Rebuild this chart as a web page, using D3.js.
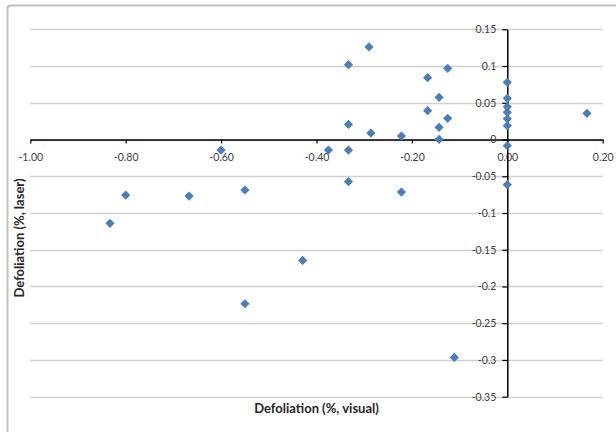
<!DOCTYPE html>
<html>
<head>
<meta charset="utf-8">
<script src="https://cdn.jsdelivr.net/npm/d3@7"></script>
<style>
  html, body { margin: 0; padding: 0; background: #fff; }
  svg { display: block; }
</style>
</head>
<body>
<svg id="chart" width="616" height="432"></svg>
<script>
// Data
const visual = [-0.833, -0.800, -0.667, -0.550, -0.550, -0.429, -0.600, -0.375, -0.333, -0.333,
                -0.290, -0.333, -0.286, -0.222, -0.167, -0.167, -0.143, -0.143, -0.143, -0.125,
                -0.125, 0, 0, 0, 0, 0, 0, 0, 0, 0.167, -0.111, -0.333, -0.222];
const laser  = [-0.114, -0.0756, -0.077, -0.0687, -0.2235, -0.1645, -0.0143, -0.0143, -0.0143, 0.1019,
                0.126, 0.0206, 0.0088, 0.0048, 0.0842, 0.0392, 0.0574, 0.0166, 0.0003, 0.0969,
                0.0289, 0.0778, 0.056, 0.0445, 0.037, 0.0283, 0.0188, -0.0084, -0.0615, 0.0357, -0.2965, -0.0574, -0.0715];
const xTicks = [-1.0, -0.8, -0.6, -0.4, -0.2, 0.0, 0.2];
const yTicks = [0.15, 0.1, 0.05, 0, -0.05, -0.1, -0.15, -0.2, -0.25, -0.3, -0.35];
const xTitle = "Defoliation (%, visual)";
const yTitle = "Defoliation (%, laser)";

const svg = d3.select("#chart");
const font = "Lato, 'Open Sans', sans-serif";

// chart border
svg.append("rect")
  .attr("x", 7.5).attr("y", 5.5)
  .attr("width", 640).attr("height", 460)
  .attr("rx", 3)
  .attr("fill", "#fff")
  .attr("stroke", "#bfbfbf")
  .attr("stroke-width", 2);

const x = d3.scaleLinear().domain([-1.0, 0.2]).range([30.3, 602.7]);
const y = d3.scaleLinear().domain([0.15, -0.35]).range([29.3, 396.7]);

// gridlines
svg.append("g").selectAll("line")
  .data(yTicks)
  .join("line")
  .attr("x1", x(-1.0)).attr("x2", x(0.2))
  .attr("y1", d => Math.round(y(d)) + 0.5).attr("y2", d => Math.round(y(d)) + 0.5)
  .attr("stroke", "#d0d0d0")
  .attr("stroke-width", 1.3);

// x axis at y=0
const xAxis = d3.axisBottom(x)
  .tickValues(xTicks)
  .tickFormat(d => d.toFixed(2))
  .tickSize(4)
  .tickSizeOuter(0)
  .tickPadding(10);
const gx = svg.append("g")
  .attr("transform", `translate(0,${y(0)})`)
  .call(xAxis);
gx.select(".domain").attr("stroke", "#000").attr("stroke-width", 1.5);
gx.selectAll(".tick line").attr("stroke", "#000").attr("stroke-width", 1.2);
gx.selectAll(".tick text")
  .attr("fill", "#404040")
  .style("font-family", font)
  .style("font-size", "10.5px");

// y axis at x=0
const yAxis = d3.axisLeft(y)
  .tickValues(yTicks)
  .tickFormat(d => String(+d.toFixed(2)))
  .tickSize(5)
  .tickSizeOuter(0)
  .tickPadding(6);
const gy = svg.append("g")
  .attr("transform", `translate(${x(0)},0)`)
  .call(yAxis);
gy.select(".domain").attr("stroke", "#000").attr("stroke-width", 1.5);
gy.selectAll(".tick line").attr("stroke", "#000").attr("stroke-width", 1.2);
gy.selectAll(".tick text")
  .attr("fill", "#404040")
  .style("font-family", font)
  .style("font-size", "10.5px");

// points
const diamond = "M0,-4.6L4.6,0L0,4.6L-4.6,0Z";
svg.append("g").selectAll("path")
  .data(visual.map((v, i) => [v, laser[i]]))
  .join("path")
  .attr("d", diamond)
  .attr("transform", d => `translate(${x(d[0])},${y(d[1])})`)
  .attr("fill", "#4a7ebb");

// titles
svg.append("text")
  .attr("x", 316.5).attr("y", 413)
  .attr("text-anchor", "middle")
  .style("font-family", font)
  .style("font-weight", "bold")
  .style("font-size", "13px")
  .attr("fill", "#262626")
  .text(xTitle);

svg.append("text")
  .attr("transform", "translate(24,238) rotate(-90)")
  .attr("text-anchor", "middle")
  .style("font-family", font)
  .style("font-weight", "bold")
  .style("font-size", "13px")
  .attr("fill", "#262626")
  .text(yTitle);
</script>
</body>
</html>
